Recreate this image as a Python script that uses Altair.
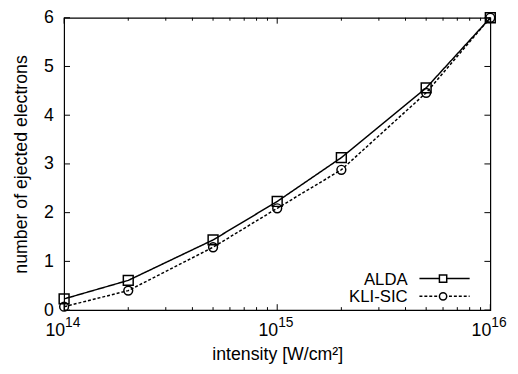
import altair as alt
import pandas as pd

# ---- data ----
intensity = [1e14, 2e14, 5e14, 1e15, 2e15, 5e15, 1e16]
alda = [0.23, 0.61, 1.44, 2.23, 3.13, 4.56, 6.0]
kli_sic = [0.07, 0.40, 1.29, 2.09, 2.88, 4.46, 6.0]
series_names = ["ALDA", "KLI-SIC"]
y_ticks = [0, 1, 2, 3, 4, 5, 6]
x_major = [1e14, 1e15, 1e16]
x_major_exp = ["14", "15", "16"]
x_minor = [2e14, 3e14, 4e14, 5e14, 6e14, 7e14, 8e14, 9e14,
           2e15, 3e15, 4e15, 5e15, 6e15, 7e15, 8e15, 9e15]

W, H = 433, 297
FONT = "Liberation Sans"

df = pd.DataFrame({
    "intensity": intensity * 2,
    "n": alda + kli_sic,
    "series": [series_names[0]] * len(intensity) + [series_names[1]] * len(intensity),
})
df_y = pd.DataFrame({"v": y_ticks})
df_xmaj = pd.DataFrame({"v": x_major, "e": x_major_exp})
df_xmin = pd.DataFrame({"v": x_minor})

xscale = alt.Scale(type="log", domain=[1e14, 1e16], nice=False)
yscale = alt.Scale(domain=[0, 6], nice=False)

X = alt.X("intensity:Q", scale=xscale,
          axis=alt.Axis(labels=False, ticks=False, domain=False, grid=False,
                        title="intensity [W/cm²]", titleFont=FONT, titleFontSize=18,
                        titleFontWeight="normal", titleColor="black", titlePadding=36))
Y = alt.Y("n:Q", scale=yscale,
          axis=alt.Axis(values=y_ticks, ticks=False, tickSize=0, domain=False, grid=False,
                        labelFont=FONT, labelFontSize=18, labelColor="black",
                        labelPadding=11, title="number of ejected electrons",
                        titleFont=FONT, titleFontSize=18, titleFontWeight="normal",
                        titleColor="black", titlePadding=13))

styles = {"ALDA": ([1, 0], "square", 100), "KLI-SIC": ([3, 2], "circle", 80)}

layers = []
for name in series_names:
    dash, shape, size = styles[name]
    sub = alt.Chart(df).transform_filter(alt.datum.series == name)
    layers.append(sub.mark_line(color="black", strokeWidth=1.5, strokeDash=dash)
                  .encode(x=X, y=Y))
    layers.append(sub.mark_point(shape=shape, size=size, filled=False, color="black",
                                 strokeWidth=1.5, opacity=1)
                  .encode(x=alt.X("intensity:Q", scale=xscale),
                          y=alt.Y("n:Q", scale=yscale)))

# inward mirrored ticks
yt = alt.Chart(df_y)
for x0, x1 in [(0, 6), (W - 6, W)]:
    layers.append(yt.mark_rule(color="black", strokeWidth=1)
                  .encode(y=alt.Y("v:Q", scale=yscale), x=alt.value(x0), x2=alt.value(x1)))
for df_t, L in [(df_xmaj, 6), (df_xmin, 3)]:
    for y0, y1 in [(H - L, H), (0, L)]:
        layers.append(alt.Chart(df_t).mark_rule(color="black", strokeWidth=1)
                      .encode(x=alt.X("v:Q", scale=xscale), y=alt.value(y0), y2=alt.value(y1)))

# x tick labels: 10 with superscript exponent
layers.append(alt.Chart(df_xmaj).mark_text(text="10", font=FONT, fontSize=18, align="right",
                                           baseline="alphabetic", color="black", dx=1)
              .encode(x=alt.X("v:Q", scale=xscale), y=alt.value(H + 26)))
layers.append(alt.Chart(df_xmaj).mark_text(font=FONT, fontSize=14, align="left",
                                           baseline="alphabetic", color="black", dx=1)
              .encode(x=alt.X("v:Q", scale=xscale), y=alt.value(H + 17), text="e:N"))

# legend (inside, bottom right)
leg = alt.Chart(pd.DataFrame({"series": series_names}))
for i, name in enumerate(series_names):
    dash, shape, size = styles[name]
    yy = 265 + 18 * i
    sub = leg.transform_filter(alt.datum.series == name)
    layers.append(sub.mark_text(font=FONT, fontSize=17, align="right", baseline="middle",
                                color="black", dy=1)
                  .encode(text="series:N", x=alt.value(349), y=alt.value(yy)))
    layers.append(sub.mark_rule(color="black", strokeWidth=1.5, strokeDash=dash)
                  .encode(x=alt.value(361), x2=alt.value(412), y=alt.value(yy)))
    layers.append(sub.mark_point(shape=shape, size=55, filled=False, color="black",
                                 strokeWidth=1.5, opacity=1, fill="white")
                  .encode(x=alt.value(385), y=alt.value(yy)))

chart = alt.layer(*layers).properties(
    width=W, height=H,
    padding={"left": 57, "top": 7, "right": 20, "bottom": 62},
    autosize=alt.AutoSizeParams(type="none"),
    background="white",
).configure_view(stroke="black", strokeWidth=1.2)

chart.save("out.html", embed_options={"renderer": "svg", "actions": False})
